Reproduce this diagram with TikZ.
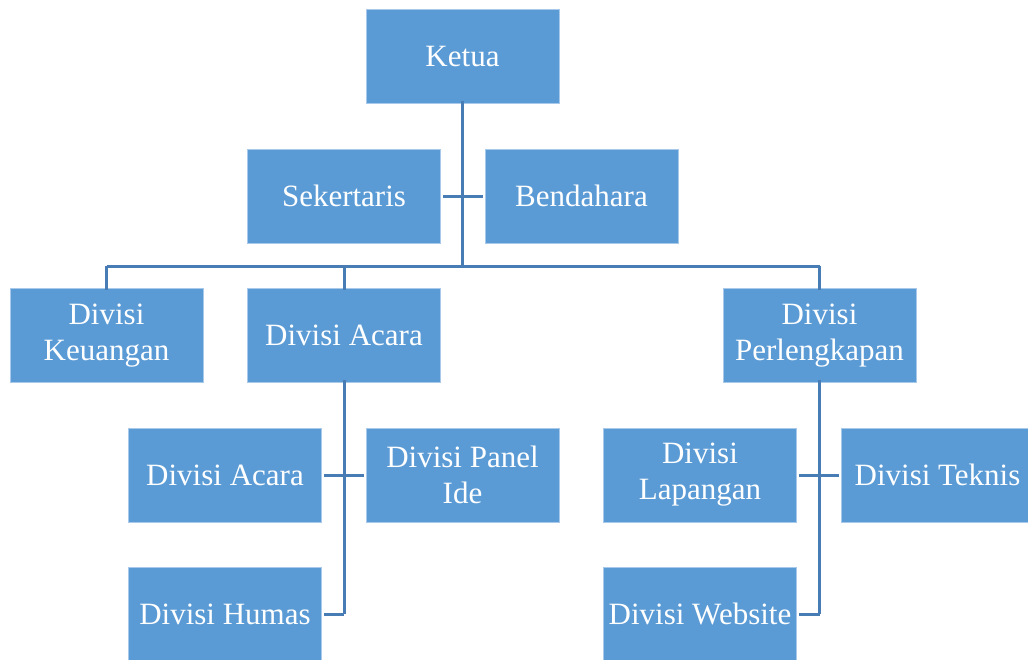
\documentclass[tikz,border=0pt]{standalone}
\usepackage{fontspec}
\setmainfont{Liberation Serif}
\definecolor{boxfill}{HTML}{5B9BD5}
\definecolor{boxedge}{HTML}{A9C9EA}
\definecolor{linec}{HTML}{487CB4}
\begin{document}
\begin{tikzpicture}[x=1pt,y=-1pt,
  orgbox/.style={rectangle, fill=boxfill, draw=boxedge, line width=0.8pt,
    minimum width=193pt, minimum height=94pt, inner sep=2pt,
    text=white, align=center,
    font=\fontsize{31}{36}\selectfont},
  conn/.style={draw=linec, line width=3pt}]
\useasboundingbox (0,0) rectangle (1028,659);
\begin{scope}
\clip (0,0) rectangle (1028,659);
\node[orgbox] (ketua) at (462.5,56.5) {Ketua};
\node[orgbox] (sek) at (344,196) {Sekertaris};
\node[orgbox] (bend) at (581.5,196) {Bendahara};
\node[orgbox] (keu) at (106.5,335.5) {Divisi\\Keuangan};
\node[orgbox] (acara) at (344,335.5) {Divisi Acara};
\node[orgbox] (perl) at (819.5,335.5) {Divisi\\Perlengkapan};
\node[orgbox] (acara2) at (225,475) {Divisi Acara};
\node[orgbox] (panel) at (462.5,475) {Divisi Panel\\Ide};
\node[orgbox] (lap) at (700,475) {Divisi\\Lapangan};
\node[orgbox] (tek) at (937.5,475) {Divisi Teknis};
\node[orgbox] (humas) at (225,614) {Divisi Humas};
\node[orgbox] (web) at (700,614) {Divisi Website};

\coordinate (bus) at (462.5,266);
\coordinate (acend) at (344,614);
\coordinate (plend) at (819.5,614);

\draw[conn] ([yshift=3pt]ketua.south) -- (bus);
\draw[conn] ([xshift=2pt]sek.east) -- ([xshift=-2pt]bend.west);
\draw[conn] (keu.north |- bus) -- (perl.north |- bus);
\draw[conn] (keu.north |- bus) -- ([yshift=-2pt]keu.north);
\draw[conn] (acara.north |- bus) -- ([yshift=-2pt]acara.north);
\draw[conn] (perl.north |- bus) -- ([yshift=-2pt]perl.north);

\draw[conn] ([yshift=3pt]acara.south) -- (acend);
\draw[conn] ([xshift=2pt]acara2.east) -- ([xshift=-2pt]panel.west);
\draw[conn] (acend) -- ([xshift=2pt]humas.east);

\draw[conn] ([yshift=3pt]perl.south) -- (plend);
\draw[conn] ([xshift=2pt]lap.east) -- ([xshift=-2pt]tek.west);
\draw[conn] (plend) -- ([xshift=2pt]web.east);
\end{scope}
\end{tikzpicture}
\end{document}
